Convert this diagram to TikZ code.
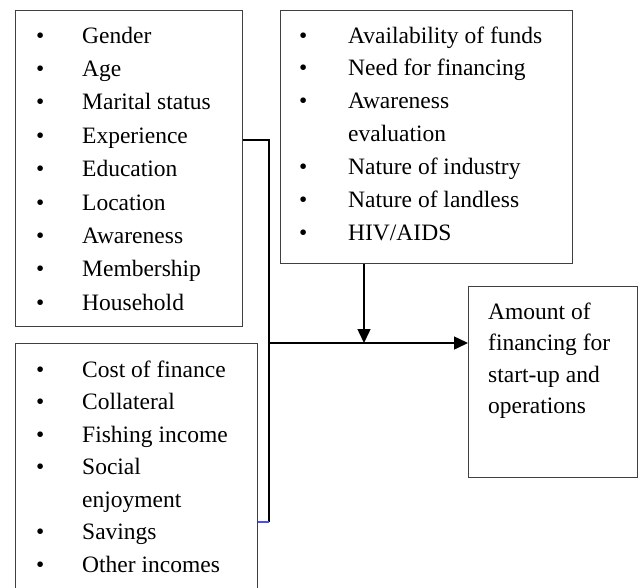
\documentclass[tikz,border=0pt]{standalone}
\usepackage{fontspec}
\setmainfont{Liberation Serif}
\usetikzlibrary{arrows.meta}

\begin{document}
\begin{tikzpicture}[x=1pt,y=-1pt,
  box/.style={draw=black!75,line width=1.3pt,anchor=north west,inner sep=0pt},
  itemlist/.style={anchor=base west,inner sep=0pt,font=\fontsize{23.5}{#1}\selectfont},
  link/.style={line width=1.5pt},
  flow/.style={line width=1.5pt,-{Triangle[length=14pt,width=13pt]}}]
\useasboundingbox (0,0) rectangle (640,587);
\node[box,minimum width=227pt,minimum height=316pt] (personal) at (15,10) {};
\node[box,minimum width=292pt,minimum height=253pt] (context) at (280,10) {};
\node[box,minimum width=242pt,minimum height=260pt] (finance) at (15,343) {};
\node[box,minimum width=169pt,minimum height=191pt] (amount) at (468,286) {};
\node[itemlist=33.4] (personallist) at (36,43) {\begin{tabular}[t]{@{}p{46pt}@{}l@{}}
\textbullet & Gender\\
\textbullet & Age\\
\textbullet & Marital status\\
\textbullet & Experience\\
\textbullet & Education\\
\textbullet & Location\\
\textbullet & Awareness\\
\textbullet & Membership\\
\textbullet & Household
\end{tabular}};
\node[itemlist=32.9] (contextlist) at (299,43) {\begin{tabular}[t]{@{}p{49pt}@{}l@{}}
\textbullet & Availability of funds\\
\textbullet & Need for financing\\
\textbullet & Awareness\\
 & evaluation\\
\textbullet & Nature of industry\\
\textbullet & Nature of landless\\
\textbullet & HIV/AIDS
\end{tabular}};
\node[itemlist=32.5] (financelist) at (36,377) {\begin{tabular}[t]{@{}p{46pt}@{}l@{}}
\textbullet & Cost of finance\\
\textbullet & Collateral\\
\textbullet & Fishing income\\
\textbullet & Social\\
 & enjoyment\\
\textbullet & Savings\\
\textbullet & Other incomes
\end{tabular}};
\node[itemlist=31.5] (amounttext) at (488,319) {\begin{tabular}[t]{@{}l@{}}
Amount of\\
financing for\\
start-up and\\
operations
\end{tabular}};
\coordinate (top) at (269,140);
\coordinate (bottom) at (269,522);
\coordinate (join) at (269,343);
\coordinate (drop) at (364,343);
\draw[link] (personal.east |- top) -- (top) -- (bottom);
\draw[link,blue!70] (bottom) -- (finance.east |- bottom);
\draw[flow] (join) -- (amount.west |- join);
\draw[flow] (context.south -| drop) -- (drop);
\end{tikzpicture}
\end{document}
